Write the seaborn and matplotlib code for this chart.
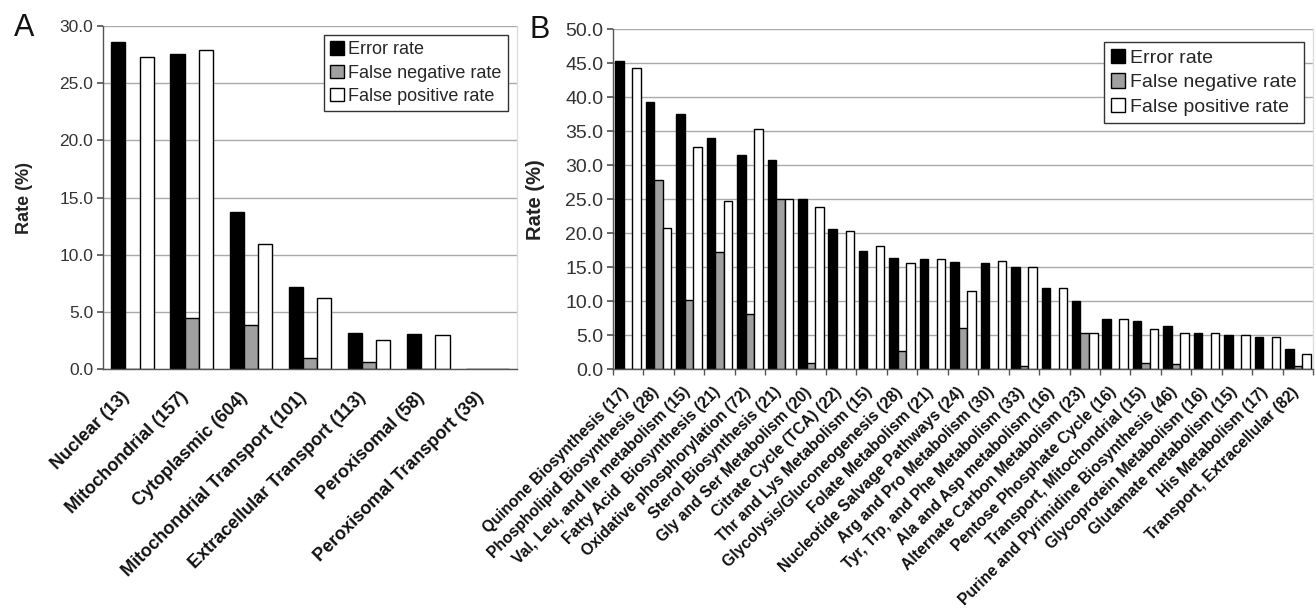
import numpy as np
import pandas as pd
import matplotlib
matplotlib.use("Agg")
import matplotlib.pyplot as plt
import seaborn as sns
from matplotlib.patches import Patch
from matplotlib.ticker import FixedLocator
from matplotlib.transforms import ScaledTranslation

# ---------------- data ----------------
metrics = ["Error rate", "False negative rate", "False positive rate"]

cats_a = ["Nuclear (13)", "Mitochondrial (157)", "Cytoplasmic (604)",
          "Mitochondrial Transport (101)", "Extracellular Transport (113)",
          "Peroxisomal (58)", "Peroxisomal Transport (39)"]
err_a = [28.6, 27.5, 13.7, 7.2, 3.2, 3.1, 0.0]
fn_a = [0.0, 4.5, 3.9, 1.0, 0.6, 0.0, 0.0]
fp_a = [27.3, 27.9, 10.9, 6.2, 2.6, 3.0, 0.0]

cats_b = ["Quinone Biosynthesis (17)", "Phospholipid Biosynthesis (28)",
          "Val, Leu, and Ile metabolism (15)", "Fatty Acid  Biosynthesis (21)",
          "Oxidative phosphorylation (72)", "Sterol Biosynthesis (21)",
          "Gly and Ser Metabolism (20)", "Citrate Cycle (TCA) (22)",
          "Thr and Lys Metabolism (15)", "Glycolysis/Gluconeogenesis (28)",
          "Folate Metabolism (21)", "Nucleotide Salvage Pathways (24)",
          "Arg and Pro Metabolism (30)", "Tyr, Trp, and Phe Metabolism (33)",
          "Ala and Asp metabolism (16)", "Alternate Carbon Metabolism (23)",
          "Pentose Phosphate Cycle (16)", "Transport, Mitochondrial (15)",
          "Purine and Pyrimidine Biosynthesis (46)", "Glycoprotein Metabolism (16)",
          "Glutamate metabolism (15)", "His Metabolism (17)",
          "Transport, Extracellular (82)"]
err_b = [45.4, 39.3, 37.5, 34.0, 31.5, 30.8, 25.0, 20.6, 17.4, 16.4, 16.2, 15.8,
         15.6, 15.1, 11.9, 10.1, 7.4, 7.1, 6.3, 5.4, 5.0, 4.8, 3.0]
fn_b = [0.0, 27.9, 10.2, 17.2, 8.1, 25.0, 1.0, 0.0, 0.0, 2.7, 0.0, 6.1,
        0.0, 0.5, 0.0, 5.3, 0.0, 0.9, 0.8, 0.0, 0.0, 0.0, 0.5]
fp_b = [44.3, 20.8, 32.7, 24.8, 35.3, 25.0, 23.8, 20.3, 18.2, 15.7, 16.2, 11.5,
        16.0, 15.0, 11.9, 5.3, 7.4, 6.0, 5.4, 5.4, 5.0, 4.8, 2.3]

colors = ["#000000", "#a0a0a0", "#ffffff"]


def long_df(cats, e, fn, fp):
    rows = []
    for c, a, b, d in zip(cats, e, fn, fp):
        rows.append((c, metrics[0], a))
        rows.append((c, metrics[1], b))
        rows.append((c, metrics[2], d))
    return pd.DataFrame(rows, columns=["cat", "metric", "value"])


df_a = long_df(cats_a, err_a, fn_a, fp_a)
df_b = long_df(cats_b, err_b, fn_b, fp_b)

sns.set_theme(style="white")
plt.rcParams["font.family"] = ["Liberation Sans", "DejaVu Sans"]

W, H = 1316, 616
fig = plt.figure(figsize=(W / 100, H / 100), dpi=100)


def px_axes(l, t, r, b):
    return fig.add_axes([l / W, 1 - b / H, (r - l) / W, (b - t) / H])


ax_a = px_axes(103, 25.7, 517, 369.3)
ax_b = px_axes(613, 29.3, 1313, 369.3)


def style(ax, df, cats, width, ymax, ylabsize, xlabsize, leg_anchor, legsize,
          ylabel_size, ylabel_x, xshift_px, xpad):
    sns.barplot(data=df, x="cat", y="value", hue="metric", order=cats,
                hue_order=metrics, palette=colors, edgecolor="black",
                linewidth=1.0, width=width, gap=0, errorbar=None, ax=ax,
                saturation=1, legend=False)
    ax.set_ylim(0, ymax)
    ax.set_xlim(-0.5, len(cats) - 0.5)
    ticks = np.arange(0, ymax + 0.01, 5)
    ax.set_yticks(ticks)
    ax.set_yticklabels([f"{t:.1f}" for t in ticks], fontsize=ylabsize, color="#333333")
    ax.yaxis.grid(True, color="#aaaaaa", linewidth=1.0)
    ax.set_axisbelow(True)
    ax.spines["top"].set_visible(False)
    ax.spines["right"].set_color("#dddddd")
    ax.spines["right"].set_linewidth(1.0)
    for s in ["left", "bottom"]:
        ax.spines[s].set_color("#555555")
        ax.spines[s].set_linewidth(1.0)
    ax.tick_params(axis="y", which="major", left=True, length=4, color="#555555", pad=3)
    ax.set_xlabel("")
    ax.set_ylabel("Rate (%)", fontsize=ylabel_size, fontweight="bold", color="#222222")
    ax.yaxis.set_label_coords(ylabel_x, 0.5)
    ax.set_xticks(range(len(cats)))
    ax.set_xticklabels(cats, rotation=45, ha="right", va="top",
                       rotation_mode="anchor", fontsize=xlabsize,
                       fontweight="bold", color="#111111")
    ax.tick_params(axis="x", which="major", bottom=False, pad=xpad)
    off = ScaledTranslation(xshift_px / 100, 0, fig.dpi_scale_trans)
    for lab in ax.get_xticklabels():
        lab.set_transform(lab.get_transform() + off)
    handles = [Patch(facecolor=c, edgecolor="black", linewidth=1.0) for c in colors]
    leg = ax.legend(handles, metrics, loc="upper right", bbox_to_anchor=leg_anchor,
                    fontsize=legsize, frameon=True, fancybox=False,
                    edgecolor="#333333", framealpha=1, borderpad=0.35,
                    handlelength=0.75, handleheight=0.75, handletextpad=0.25,
                    labelspacing=0.35, borderaxespad=0)
    leg.get_frame().set_linewidth(1.0)


style(ax_a, df_a, cats_a, 0.72, 30, 12.5, 13, (0.978, 0.973), 13, 13, -0.169, -12, 8)
style(ax_b, df_b, cats_b, 0.84, 50, 14, 11.3, (0.987, 0.963), 14, 14.5, -0.097, -7, 5)

# tick marks between groups on panel B
ax_b.xaxis.set_minor_locator(FixedLocator(np.arange(-0.5, len(cats_b), 1.0)))
ax_b.tick_params(axis="x", which="minor", bottom=True, length=4, color="#555555")

fig.text(14 / W, 1 - 28 / H, "A", fontsize=22, va="center", ha="left", color="#111111")
fig.text(530 / W, 1 - 30 / H, "B", fontsize=22, va="center", ha="left", color="#111111")

fig.savefig("out.png", dpi=100, facecolor="white")
